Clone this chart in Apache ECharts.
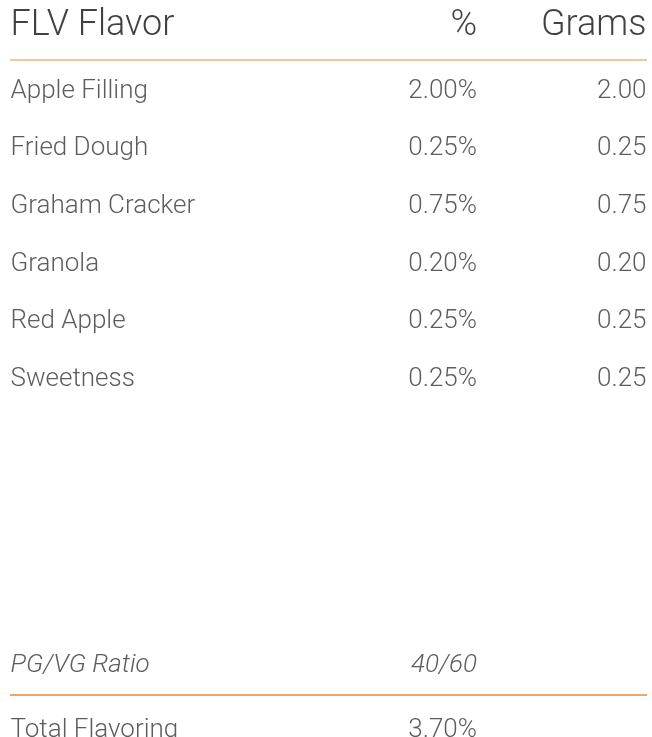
<!DOCTYPE html>
<html>
<head>
<meta charset="utf-8">
<script src="https://cdn.jsdelivr.net/npm/echarts@6/dist/echarts.min.js"></script>
<style>
    html, body { margin: 0; padding: 0; background: #fff; }
    #chart { width: 652px; height: 737px; }
</style>
</head>
<body>
<div id="chart"></div>
<script>
var headers = ['FLV Flavor', '%', 'Grams'];
var flavors = ['Apple Filling', 'Fried Dough', 'Graham Cracker', 'Granola', 'Red Apple', 'Sweetness'];
var percents = [2.00, 0.25, 0.75, 0.20, 0.25, 0.25];
var grams = [2.00, 0.25, 0.75, 0.20, 0.25, 0.25];
var ratioLabel = 'PG/VG Ratio';
var ratioValue = '40/60';
var totalLabel = 'Total Flavoring';
var totalPercent = 3.70;

var columns = ['name', 'percent', 'grams'];
// header, flavor rows, four empty rows, ratio, total
var rows = [headers[0]].concat(flavors, ['', ' ', '  ', '   '], [ratioLabel, totalLabel]);
var ratioRow = rows.length - 2;
var totalRow = rows.length - 1;

var FONT = 'Roboto';
var headSize = 36;
var rowSize = 26;
var textColor = '#333';
var pctShift = 149; // % column sits right of the middle

function cell(col, row, text) {
    return [col, row, text];
}

var nameData = [];
var pctData = [];
var gramData = [];
flavors.forEach(function (name, i) {
    nameData.push(cell(0, i + 1, name));
    pctData.push(cell(1, i + 1, percents[i].toFixed(2) + '%'));
    gramData.push(cell(2, i + 1, grams[i].toFixed(2)));
});

var baseLabel = {
    show: true,
    distance: 0,
    fontFamily: FONT,
    fontWeight: 300,
    fontSize: rowSize,
    color: textColor,
    verticalAlign: 'middle',
    formatter: function (p) { return p.value[2]; }
};

function textSeries(data, label) {
    return {
        type: 'scatter',
        symbolSize: 1,
        itemStyle: { color: 'transparent' },
        silent: true,
        data: data,
        label: Object.assign({}, baseLabel, label)
    };
}

var chart = echarts.init(document.getElementById('chart'));
chart.setOption({
    backgroundColor: '#fff',
    animation: false,
    grid: { left: 10, right: 5, top: 2.5, height: 750, outerBoundsMode: 'none' },
    xAxis: {
        type: 'category',
        data: columns,
        boundaryGap: false,
        axisLine: { show: false },
        axisTick: { show: false },
        axisLabel: { show: false },
        splitLine: { show: false }
    },
    yAxis: {
        type: 'category',
        data: rows,
        inverse: true,
        axisLine: { show: false },
        axisTick: { show: false },
        axisLabel: { show: false },
        splitLine: {
            show: true,
            interval: function (index) {
                return index === 1 || index === totalRow;
            },
            lineStyle: { color: ['#f2c6a2', '#f2a568'], width: 2 }
        }
    },
    series: [
        // header
        textSeries([
            { value: cell(0, 0, headers[0]), label: { position: 'right' } },
            { value: cell(1, 0, headers[1]), label: { position: 'left', offset: [pctShift, -5] } },
            { value: cell(2, 0, headers[2]), label: { position: 'left' } }
        ], { fontSize: headSize, color: '#111', offset: [0, -5] }),
        textSeries(nameData, { position: 'right', offset: [0, 2] }),
        textSeries(pctData, { position: 'left', offset: [pctShift, 2] }),
        textSeries(gramData, { position: 'left', offset: [0, 2] }),
        // footer
        textSeries([
            { value: cell(0, ratioRow, ratioLabel), label: { position: 'right' } },
            { value: cell(1, ratioRow, ratioValue), label: { position: 'left', offset: [pctShift, 0] } }
        ], { fontStyle: 'italic', offset: [0, 0] }),
        textSeries([
            { value: cell(0, totalRow, totalLabel), label: { position: 'right' } },
            { value: cell(1, totalRow, totalPercent.toFixed(2) + '%'), label: { position: 'left', offset: [pctShift, 7] } }
        ], { offset: [0, 7] })
    ]
});
</script>
</body>
</html>
